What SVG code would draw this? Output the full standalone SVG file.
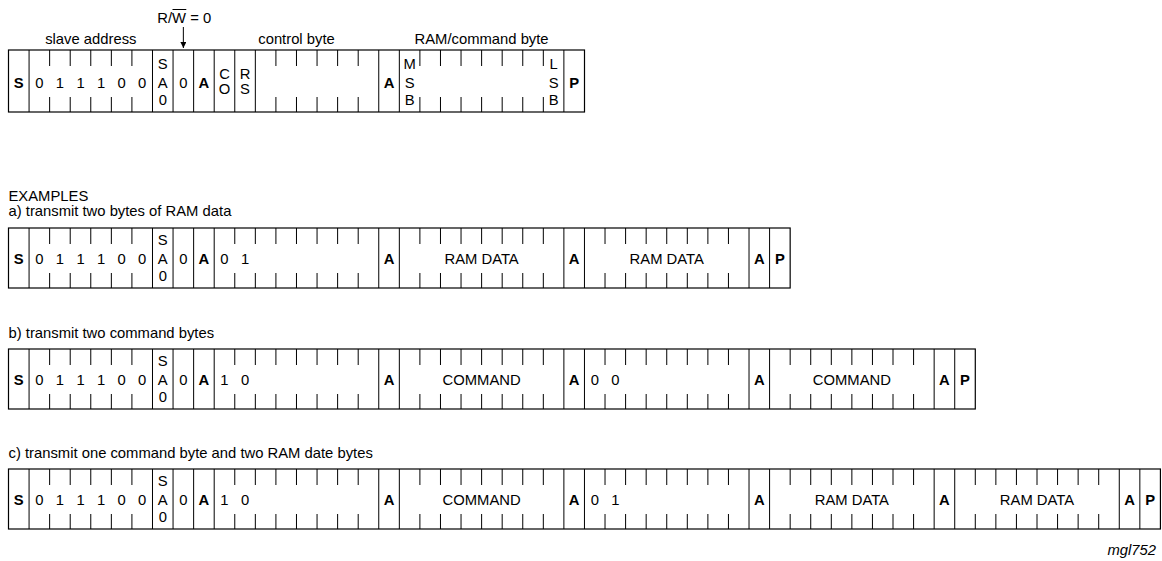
<svg xmlns="http://www.w3.org/2000/svg" width="1162" height="561" viewBox="0 0 1162 561">
<style>
.bx{fill:none;stroke:#000;stroke-width:1.2}
.ln{fill:none;stroke:#000;stroke-width:1}
text{font-family:"Liberation Sans",Arial,sans-serif;font-size:14.8px;fill:#000}
.m{text-anchor:middle}
.b{font-weight:bold}
</style>
<defs>
<marker id="ah" viewBox="0 0 10 10" refX="10" refY="5" markerWidth="6" markerHeight="6" orient="auto" markerUnits="userSpaceOnUse">
<path d="M0,0 L10,5 L0,10 z" fill="#000"/>
</marker>
</defs>
<rect width="1162" height="561" fill="#fff"/>

<!-- top format row -->
<g id="format">
<text class="m" x="90.8" y="44">slave address</text>
<text class="m" x="296.5" y="44">control byte</text>
<text class="m" x="481.6" y="44">RAM/command byte</text>
<text x="157.3" y="23">R/W = 0</text>
<path class="ln" d="M172.5,9.5 H186.3"/>
<rect class="bx" x="8.5" y="50" width="576" height="62"/>
<path class="ln" d="M29.07,50V112M152.49,50V112M173.06,50V112M193.63,50V112M214.2,50V112M234.77,50V112M255.34,50V112M378.76,50V112M399.33,50V112M563.89,50V112"/>
<path class="ln" d="M49.64,50v16M70.21,50v16M90.78,50v16M111.35,50v16M131.92,50v16M275.91,50v16M296.48,50v16M317.05,50v16M337.62,50v16M358.19,50v16M419.9,50v16M440.47,50v16M461.04,50v16M481.61,50v16M502.18,50v16M522.75,50v16M543.32,50v16
M49.64,112v-15M70.21,112v-15M90.78,112v-15M111.35,112v-15M131.92,112v-15M275.91,112v-15M296.48,112v-15M317.05,112v-15M337.62,112v-15M358.19,112v-15M419.9,112v-15M440.47,112v-15M461.04,112v-15M481.61,112v-15M502.18,112v-15M522.75,112v-15M543.32,112v-15"/>
<text class="m b" x="18.79" y="87.5">S</text>
<text class="m" x="39.36" y="87.5">0</text>
<text class="m" x="59.93" y="87.5">1</text>
<text class="m" x="80.5" y="87.5">1</text>
<text class="m" x="101.07" y="87.5">1</text>
<text class="m" x="121.64" y="87.5">0</text>
<text class="m" x="142.21" y="87.5">0</text>
<text class="m" x="162.78" y="69">S</text>
<text class="m" x="162.78" y="87.5">A</text>
<text class="m" x="162.78" y="105">0</text>
<text class="m" x="183.35" y="87.5">0</text>
<text class="m b" x="203.92" y="87.5">A</text>
<text class="m" x="224.49" y="79">C</text>
<text class="m" x="224.49" y="93.5">O</text>
<text class="m" x="245.06" y="79">R</text>
<text class="m" x="245.06" y="93.5">S</text>
<text class="m b" x="389.05" y="87.5">A</text>
<text class="m" x="409.62" y="69">M</text>
<text class="m" x="409.62" y="87.5">S</text>
<text class="m" x="409.62" y="105">B</text>
<text class="m" x="553.61" y="69">L</text>
<text class="m" x="553.61" y="87.5">S</text>
<text class="m" x="553.61" y="105">B</text>
<text class="m b" x="574.18" y="87.5">P</text>
</g>

<g id="connectors">
<path class="ln" d="M183.35,27 V48" marker-end="url(#ah)"/>
</g>

<text x="8.5" y="201">EXAMPLES</text>

<!-- example a -->
<g id="example-a">
<text x="8.5" y="216">a) transmit two bytes of RAM data</text>
<rect class="bx" x="8.5" y="228" width="781.66" height="60"/>
<path class="ln" d="M29.07,228V288M152.49,228V288M173.06,228V288M193.63,228V288M214.2,228V288M378.76,228V288M399.33,228V288M563.89,228V288M584.46,228V288M749.02,228V288M769.59,228V288"/>
<path class="ln" d="M49.64,228v16M70.21,228v16M90.78,228v16M111.35,228v16M131.92,228v16M234.77,228v16M255.34,228v16M275.91,228v16M296.48,228v16M317.05,228v16M337.62,228v16M358.19,228v16M419.9,228v16M440.47,228v16M461.04,228v16M481.61,228v16M502.18,228v16M522.75,228v16M543.32,228v16M605.03,228v16M625.6,228v16M646.17,228v16M666.74,228v16M687.31,228v16M707.88,228v16M728.45,228v16
M49.64,288v-15M70.21,288v-15M90.78,288v-15M111.35,288v-15M131.92,288v-15M234.77,288v-15M255.34,288v-15M275.91,288v-15M296.48,288v-15M317.05,288v-15M337.62,288v-15M358.19,288v-15M419.9,288v-15M440.47,288v-15M461.04,288v-15M481.61,288v-15M502.18,288v-15M522.75,288v-15M543.32,288v-15M605.03,288v-15M625.6,288v-15M646.17,288v-15M666.74,288v-15M687.31,288v-15M707.88,288v-15M728.45,288v-15"/>
<text class="m b" x="18.79" y="263.5">S</text>
<text class="m" x="39.36" y="263.5">0</text>
<text class="m" x="59.93" y="263.5">1</text>
<text class="m" x="80.5" y="263.5">1</text>
<text class="m" x="101.07" y="263.5">1</text>
<text class="m" x="121.64" y="263.5">0</text>
<text class="m" x="142.21" y="263.5">0</text>
<text class="m" x="162.78" y="245">S</text>
<text class="m" x="162.78" y="263.5">A</text>
<text class="m" x="162.78" y="281">0</text>
<text class="m" x="183.35" y="263.5">0</text>
<text class="m b" x="203.92" y="263.5">A</text>
<text class="m" x="224.49" y="263.5">0</text>
<text class="m" x="245.06" y="263.5">1</text>
<text class="m b" x="389.05" y="263.5">A</text>
<text class="m" x="481.61" y="263.5">RAM DATA</text>
<text class="m b" x="574.18" y="263.5">A</text>
<text class="m" x="666.74" y="263.5">RAM DATA</text>
<text class="m b" x="759.31" y="263.5">A</text>
<text class="m b" x="779.88" y="263.5">P</text>
</g>

<!-- example b -->
<g id="example-b">
<text x="8.5" y="338">b) transmit two command bytes</text>
<rect class="bx" x="8.5" y="349" width="966.79" height="60"/>
<path class="ln" d="M29.07,349V409M152.49,349V409M173.06,349V409M193.63,349V409M214.2,349V409M378.76,349V409M399.33,349V409M563.89,349V409M584.46,349V409M749.02,349V409M769.59,349V409M934.15,349V409M954.72,349V409"/>
<path class="ln" d="M49.64,349v16M70.21,349v16M90.78,349v16M111.35,349v16M131.92,349v16M234.77,349v16M255.34,349v16M275.91,349v16M296.48,349v16M317.05,349v16M337.62,349v16M358.19,349v16M419.9,349v16M440.47,349v16M461.04,349v16M481.61,349v16M502.18,349v16M522.75,349v16M543.32,349v16M605.03,349v16M625.6,349v16M646.17,349v16M666.74,349v16M687.31,349v16M707.88,349v16M728.45,349v16M790.16,349v16M810.73,349v16M831.3,349v16M851.87,349v16M872.44,349v16M893.01,349v16M913.58,349v16
M49.64,409v-15M70.21,409v-15M90.78,409v-15M111.35,409v-15M131.92,409v-15M234.77,409v-15M255.34,409v-15M275.91,409v-15M296.48,409v-15M317.05,409v-15M337.62,409v-15M358.19,409v-15M419.9,409v-15M440.47,409v-15M461.04,409v-15M481.61,409v-15M502.18,409v-15M522.75,409v-15M543.32,409v-15M605.03,409v-15M625.6,409v-15M646.17,409v-15M666.74,409v-15M687.31,409v-15M707.88,409v-15M728.45,409v-15M790.16,409v-15M810.73,409v-15M831.3,409v-15M851.87,409v-15M872.44,409v-15M893.01,409v-15M913.58,409v-15"/>
<text class="m b" x="18.79" y="384.5">S</text>
<text class="m" x="39.36" y="384.5">0</text>
<text class="m" x="59.93" y="384.5">1</text>
<text class="m" x="80.5" y="384.5">1</text>
<text class="m" x="101.07" y="384.5">1</text>
<text class="m" x="121.64" y="384.5">0</text>
<text class="m" x="142.21" y="384.5">0</text>
<text class="m" x="162.78" y="366">S</text>
<text class="m" x="162.78" y="384.5">A</text>
<text class="m" x="162.78" y="402">0</text>
<text class="m" x="183.35" y="384.5">0</text>
<text class="m b" x="203.92" y="384.5">A</text>
<text class="m" x="224.49" y="384.5">1</text>
<text class="m" x="245.06" y="384.5">0</text>
<text class="m b" x="389.05" y="384.5">A</text>
<text class="m" x="481.61" y="384.5">COMMAND</text>
<text class="m b" x="574.18" y="384.5">A</text>
<text class="m" x="594.75" y="384.5">0</text>
<text class="m" x="615.32" y="384.5">0</text>
<text class="m b" x="759.31" y="384.5">A</text>
<text class="m" x="851.87" y="384.5">COMMAND</text>
<text class="m b" x="944.44" y="384.5">A</text>
<text class="m b" x="965.01" y="384.5">P</text>
</g>

<!-- example c -->
<g id="example-c">
<text x="8.5" y="458">c) transmit one command byte and two RAM date bytes</text>
<rect class="bx" x="8.5" y="469" width="1151.92" height="60"/>
<path class="ln" d="M29.07,469V529M152.49,469V529M173.06,469V529M193.63,469V529M214.2,469V529M378.76,469V529M399.33,469V529M563.89,469V529M584.46,469V529M749.02,469V529M769.59,469V529M934.15,469V529M954.72,469V529M1119.28,469V529M1139.85,469V529"/>
<path class="ln" d="M49.64,469v16M70.21,469v16M90.78,469v16M111.35,469v16M131.92,469v16M234.77,469v16M255.34,469v16M275.91,469v16M296.48,469v16M317.05,469v16M337.62,469v16M358.19,469v16M419.9,469v16M440.47,469v16M461.04,469v16M481.61,469v16M502.18,469v16M522.75,469v16M543.32,469v16M605.03,469v16M625.6,469v16M646.17,469v16M666.74,469v16M687.31,469v16M707.88,469v16M728.45,469v16M790.16,469v16M810.73,469v16M831.3,469v16M851.87,469v16M872.44,469v16M893.01,469v16M913.58,469v16M975.29,469v16M995.86,469v16M1016.43,469v16M1037,469v16M1057.57,469v16M1078.14,469v16M1098.71,469v16
M49.64,529v-15M70.21,529v-15M90.78,529v-15M111.35,529v-15M131.92,529v-15M234.77,529v-15M255.34,529v-15M275.91,529v-15M296.48,529v-15M317.05,529v-15M337.62,529v-15M358.19,529v-15M419.9,529v-15M440.47,529v-15M461.04,529v-15M481.61,529v-15M502.18,529v-15M522.75,529v-15M543.32,529v-15M605.03,529v-15M625.6,529v-15M646.17,529v-15M666.74,529v-15M687.31,529v-15M707.88,529v-15M728.45,529v-15M790.16,529v-15M810.73,529v-15M831.3,529v-15M851.87,529v-15M872.44,529v-15M893.01,529v-15M913.58,529v-15M975.29,529v-15M995.86,529v-15M1016.43,529v-15M1037,529v-15M1057.57,529v-15M1078.14,529v-15M1098.71,529v-15"/>
<text class="m b" x="18.79" y="504.5">S</text>
<text class="m" x="39.36" y="504.5">0</text>
<text class="m" x="59.93" y="504.5">1</text>
<text class="m" x="80.5" y="504.5">1</text>
<text class="m" x="101.07" y="504.5">1</text>
<text class="m" x="121.64" y="504.5">0</text>
<text class="m" x="142.21" y="504.5">0</text>
<text class="m" x="162.78" y="486">S</text>
<text class="m" x="162.78" y="504.5">A</text>
<text class="m" x="162.78" y="522">0</text>
<text class="m" x="183.35" y="504.5">0</text>
<text class="m b" x="203.92" y="504.5">A</text>
<text class="m" x="224.49" y="504.5">1</text>
<text class="m" x="245.06" y="504.5">0</text>
<text class="m b" x="389.05" y="504.5">A</text>
<text class="m" x="481.61" y="504.5">COMMAND</text>
<text class="m b" x="574.18" y="504.5">A</text>
<text class="m" x="594.75" y="504.5">0</text>
<text class="m" x="615.32" y="504.5">1</text>
<text class="m b" x="759.31" y="504.5">A</text>
<text class="m" x="851.87" y="504.5">RAM DATA</text>
<text class="m b" x="944.44" y="504.5">A</text>
<text class="m" x="1037" y="504.5">RAM DATA</text>
<text class="m b" x="1129.57" y="504.5">A</text>
<text class="m b" x="1150.14" y="504.5">P</text>
</g>

<text x="1156" y="555" text-anchor="end" font-style="italic" font-size="11.5">mgl752</text>
</svg>
